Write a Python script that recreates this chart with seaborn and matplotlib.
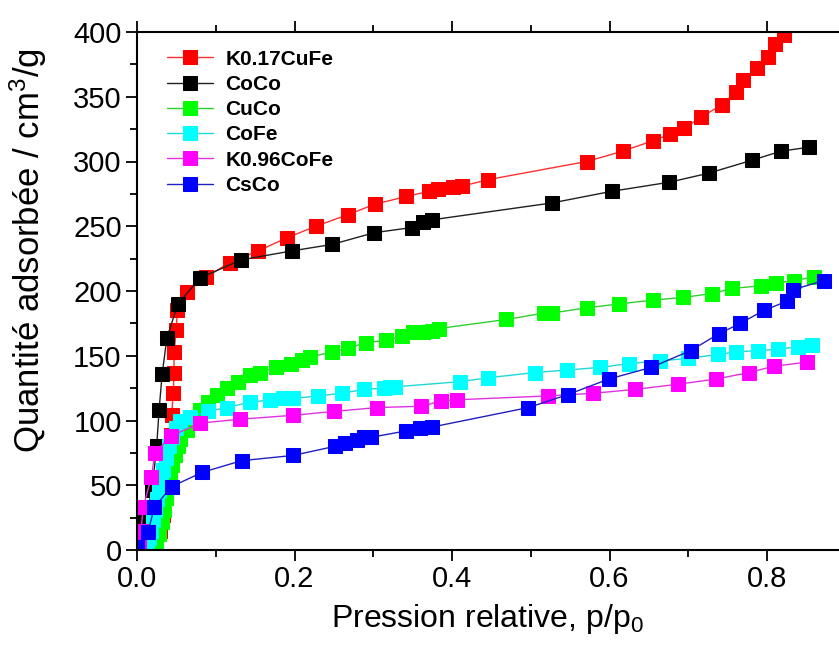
import matplotlib
matplotlib.use("Agg")
import matplotlib.pyplot as plt
import numpy as np
import pandas as pd
import seaborn as sns
from matplotlib.ticker import MultipleLocator

# K0.17CuFe
p_k017cufe = [0.017, 0.029, 0.033, 0.037, 0.039, 0.042, 0.043, 0.044, 0.046, 0.047, 0.047,
              0.050, 0.051, 0.063, 0.088, 0.118, 0.154, 0.190, 0.227, 0.268, 0.302, 0.342,
              0.371, 0.382, 0.401, 0.413, 0.446, 0.571, 0.617, 0.655, 0.677, 0.695, 0.716,
              0.743, 0.761, 0.770, 0.787, 0.801, 0.810, 0.822]
q_k017cufe = [1.5, 15, 27, 40, 56, 73, 89, 104, 121, 137, 153,
              170, 185, 199, 211, 222, 231, 241, 250, 259, 267, 273,
              277, 279, 280, 281, 286, 300, 308, 316, 321, 326, 334,
              344, 354, 363, 372, 381, 391, 398]

# CoCo
p_coco = [0.000, 0.005, 0.008, 0.010, 0.019, 0.025, 0.028, 0.032, 0.038, 0.052, 0.080,
          0.132, 0.197, 0.248, 0.301, 0.349, 0.363, 0.375, 0.527, 0.603, 0.676, 0.726,
          0.781, 0.818, 0.853]
q_coco = [0, 8, 15, 22, 46, 80, 108, 136, 164, 190, 210,
          224, 231, 236, 245, 249, 253, 255, 268, 277, 284, 291,
          301, 308, 311]

# CuCo
p_cuco = [0.019, 0.024, 0.028, 0.032, 0.034, 0.037, 0.039, 0.042, 0.044, 0.048, 0.052,
          0.055, 0.063, 0.071, 0.080, 0.090, 0.102, 0.114, 0.128, 0.143, 0.156, 0.177,
          0.196, 0.210, 0.220, 0.248, 0.268, 0.291, 0.316, 0.337, 0.350, 0.363, 0.375,
          0.383, 0.469, 0.517, 0.527, 0.571, 0.612, 0.655, 0.693, 0.730, 0.756, 0.792,
          0.811, 0.834, 0.860]
q_cuco = [1, 5, 12, 22, 31, 40, 49, 58, 66, 73, 80,
          86, 93, 100, 108, 114, 120, 125, 130, 135, 137, 141,
          144, 147, 149, 153, 156, 160, 162, 165, 168, 168, 169,
          171, 178, 183, 183, 187, 190, 193, 195, 198, 202, 204,
          206, 208, 211]

# CoFe
p_cofe = [0.010, 0.013, 0.015, 0.018, 0.020, 0.023, 0.025, 0.028, 0.030, 0.033, 0.037,
          0.041, 0.044, 0.050, 0.055, 0.067, 0.090, 0.114, 0.143, 0.169, 0.185, 0.198,
          0.230, 0.260, 0.288, 0.314, 0.321, 0.328, 0.410, 0.446, 0.505, 0.546, 0.588,
          0.625, 0.664, 0.700, 0.738, 0.761, 0.789, 0.814, 0.839, 0.857]
q_cofe = [1, 4, 9, 15, 23, 31, 39, 46, 54, 62, 71,
          80, 87, 94, 100, 103, 107, 110, 114, 116, 117, 117,
          119, 121, 124, 125, 126, 126, 130, 133, 137, 139, 141,
          144, 146, 148, 151, 153, 154, 155, 157, 158]

# K0.96CoFe
p_k096cofe = [0.003, 0.005, 0.008, 0.018, 0.023, 0.043, 0.080, 0.131, 0.198, 0.250, 0.305,
              0.361, 0.386, 0.406, 0.522, 0.579, 0.632, 0.687, 0.735, 0.777, 0.809, 0.851]
q_k096cofe = [4, 15, 33, 56, 75, 88, 98, 101, 104, 107, 110,
              111, 115, 116, 119, 121, 124, 128, 132, 137, 142, 145]

# CsCo
p_csco = [0.000, 0.014, 0.022, 0.044, 0.083, 0.133, 0.198, 0.251, 0.264, 0.279, 0.288,
          0.297, 0.342, 0.359, 0.375, 0.497, 0.547, 0.599, 0.653, 0.703, 0.739, 0.766,
          0.796, 0.825, 0.833, 0.872]
q_csco = [2, 14, 33, 49, 60, 69, 73, 80, 83, 85, 87,
          87, 92, 94, 95, 110, 120, 132, 141, 154, 167, 175,
          185, 192, 201, 208]

samples = ["K0.17CuFe", "CoCo", "CuCo", "CoFe", "K0.96CoFe", "CsCo"]
colors = ["#ff0000", "#000000", "#00ff00", "#00ffff", "#ff00ff", "#0000ff"]
line_colors = ["#ff3030", "#202020", "#30d030", "#20d8d8", "#e030e0", "#2020c0"]

series = [(p_k017cufe, q_k017cufe), (p_coco, q_coco), (p_cuco, q_cuco),
          (p_cofe, q_cofe), (p_k096cofe, q_k096cofe), (p_csco, q_csco)]

frames = []
for name, (p, q) in zip(samples, series):
    frames.append(pd.DataFrame({"p": p, "q": q, "sample": name}))
df = pd.concat(frames, ignore_index=True)

sns.set_style("ticks", {"text.color": "black", "axes.labelcolor": "black",
                        "xtick.color": "black", "ytick.color": "black",
                        "axes.edgecolor": "black"})
plt.rcParams["font.family"] = ["Liberation Sans", "DejaVu Sans"]
plt.rcParams["mathtext.default"] = "regular"

fig = plt.figure(figsize=(8.39, 6.55), dpi=100)
xmax = 0.92
ax = fig.add_axes([137 / 839, 105 / 655, xmax * 787.5 / 839, 518 / 655])

for name, c, lc in zip(samples, colors, line_colors):
    sub = df[df["sample"] == name]
    sns.lineplot(data=sub, x="p", y="q", ax=ax, sort=False, color=lc, linewidth=1.0,
                 marker="s", markersize=9.5, markerfacecolor=c, markeredgecolor=c,
                 label=name, estimator=None)

ax.set_xlim(0, xmax)
ax.set_ylim(0, 400)
ax.xaxis.set_major_locator(MultipleLocator(0.2))
ax.xaxis.set_minor_locator(MultipleLocator(0.1))
ax.yaxis.set_major_locator(MultipleLocator(50))
ax.yaxis.set_minor_locator(MultipleLocator(25))
ax.tick_params(which="major", direction="out", length=8, width=1.3, top=True,
               labelsize=21, pad=3, color="black", labelcolor="black")
ax.tick_params(which="minor", direction="out", length=5, width=1.3, top=True)
for s in ax.spines.values():
    s.set_linewidth(1.5)
    s.set_color("black")

ax.set_xlabel("Pression relative, p/p$_0$", fontsize=23, color="black")
ax.set_ylabel("Quantité adsorbée / cm$^3$/g", fontsize=25, color="black")
ax.xaxis.set_label_coords(0.483, -0.100)
ax.yaxis.set_label_coords(-0.121, 0.578)

leg = ax.legend(loc="upper left", bbox_to_anchor=(0.03, 0.982), frameon=False,
                prop={"weight": "bold", "size": 15}, handlelength=2.2,
                handletextpad=0.6, labelspacing=0.3, borderaxespad=0)
for t in leg.get_texts():
    t.set_color("black")

fig.savefig("out.png", dpi=100)
